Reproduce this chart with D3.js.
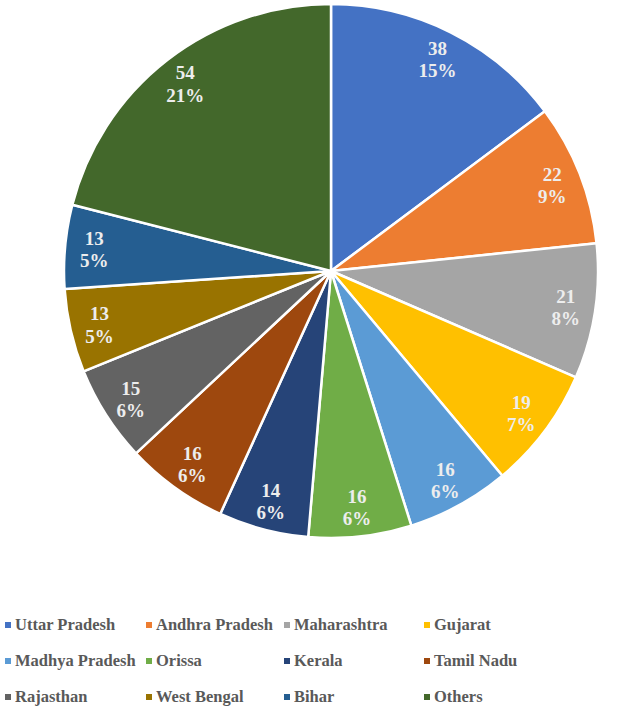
<!DOCTYPE html>
<html><head><meta charset="utf-8">
<script src="https://cdn.jsdelivr.net/npm/d3@7"></script>
<style>body{margin:0;background:#fff}svg{display:block}</style>
</head><body>
<svg id="chart" width="628" height="710"></svg>
<script>
const categories = ["Uttar Pradesh","Andhra Pradesh","Maharashtra","Gujarat","Madhya Pradesh","Orissa","Kerala","Tamil Nadu","Rajasthan","West Bengal","Bihar","Others"];
const values = [38,22,21,19,16,16,14,16,15,13,13,54];
const pctLabels = ["15%","9%","8%","7%","6%","6%","6%","6%","6%","5%","5%","21%"];
const colors = ["#4472C4","#ED7D31","#A5A5A5","#FFC000","#5B9BD5","#70AD47","#264478","#9E480E","#636363","#997300","#255E91","#43682B"];

const FONT = '"Liberation Serif"';
const svg = d3.select("#chart");
const cx = 331, cy = 271, r = 267;
const data = categories.map((c,i)=>({cat:c, value:values[i], pct:pctLabels[i], color:colors[i]}));
const pie = d3.pie().value(d=>d.value).sort(null);
const arc = d3.arc().innerRadius(0).outerRadius(r);
const labelArc = d3.arc().innerRadius(r*0.89).outerRadius(r*0.89);
const g = svg.append("g").attr("transform",`translate(${cx},${cy})`);
const arcs = pie(data);
g.selectAll("path").data(arcs).enter().append("path")
  .attr("d",arc).attr("fill",d=>d.data.color)
  .attr("stroke","#fff").attr("stroke-width",2.5).attr("stroke-linejoin","round");
const lab = g.selectAll("text.lab").data(arcs).enter().append("text")
  .attr("class","lab")
  .attr("transform",d=>`translate(${labelArc.centroid(d)})`)
  .attr("text-anchor","middle")
  .style("font-family",FONT)
  .style("font-weight","bold").style("font-size","19px").attr("fill","#EDEDED");
lab.append("tspan").attr("x",0).attr("dy","-0.2em").text(d=>d.data.value);
lab.append("tspan").attr("x",0).attr("dy","1.16em").text(d=>d.data.pct);

const colX = [5,146,284,424];
const rowY = [625,661,697];
const leg = svg.append("g");
data.forEach((d,i)=>{
  const x = colX[i%4], y = rowY[Math.floor(i/4)];
  leg.append("rect").attr("x",x).attr("y",y-3).attr("width",6).attr("height",6).attr("fill",d.color);
  leg.append("text").attr("x",x+10).attr("y",y).attr("dy","0.33em")
    .style("font-family",FONT)
    .style("font-weight","bold").style("font-size","16.5px").attr("fill","#595959").text(d.cat);
});
</script>
</body></html>
